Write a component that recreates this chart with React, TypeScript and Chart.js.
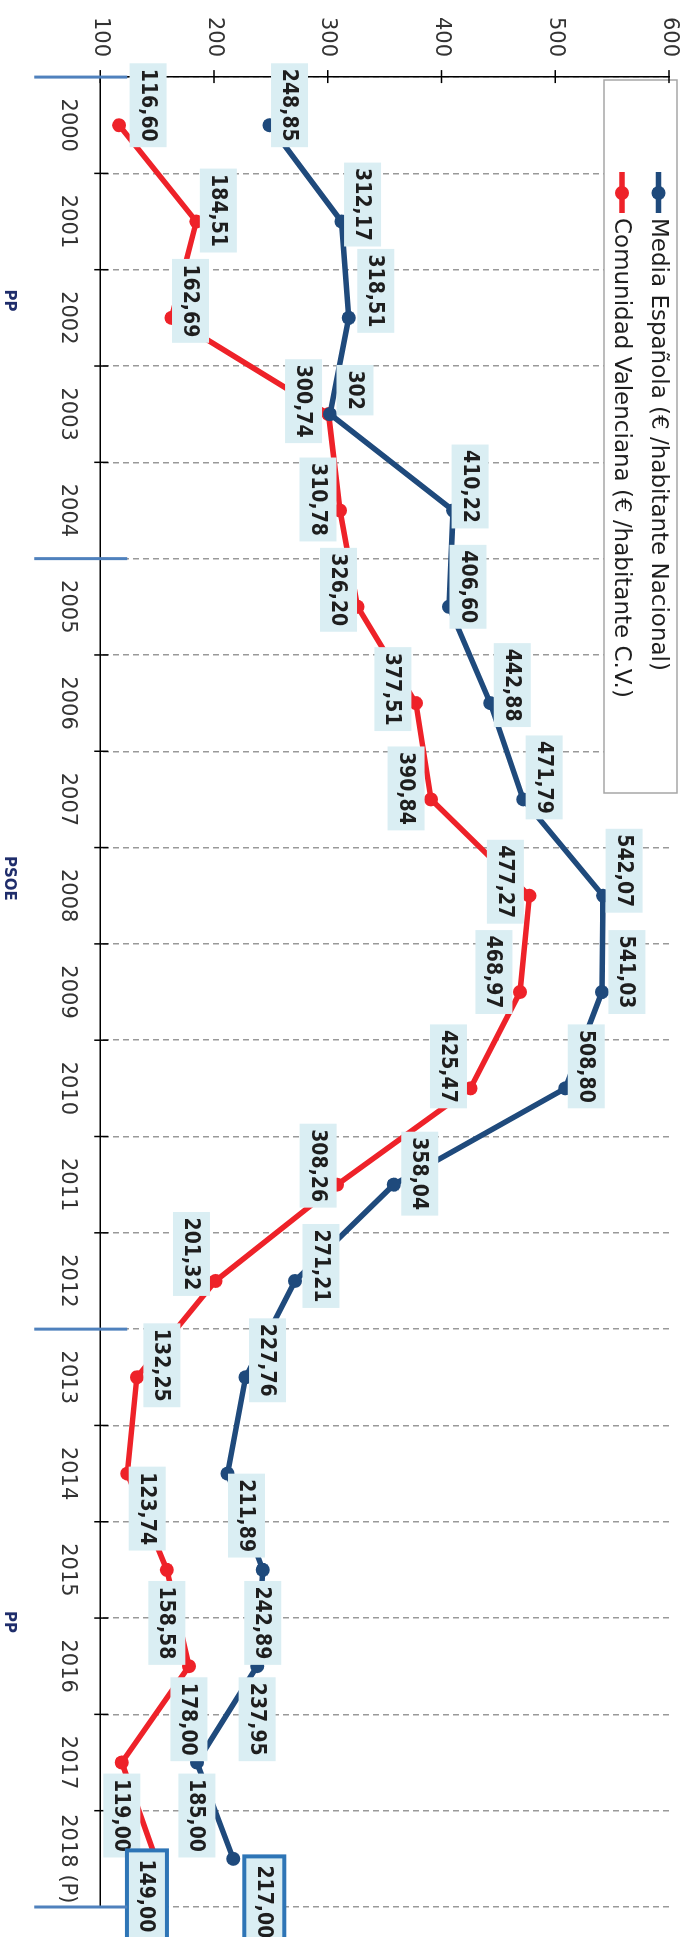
import React, { useEffect, useRef } from 'react';
import { Chart, registerables } from 'chart.js';

Chart.register(...registerables);

// ---------- data ----------
const years = ['2000', '2001', '2002', '2003', '2004', '2005', '2006', '2007', '2008', '2009', '2010', '2011', '2012', '2013', '2014', '2015', '2016', '2017', '2018 (P)'];
const mediaEspanola = [248.85, 312.17, 318.51, 302, 410.22, 406.6, 442.88, 471.79, 542.07, 541.03, 508.8, 358.04, 271.21, 227.76, 211.89, 242.89, 237.95, 185.0, 217.0];
const comunidadValenciana = [116.6, 184.51, 162.69, 300.74, 310.78, 326.2, 377.51, 390.84, 477.27, 468.97, 425.47, 308.26, 201.32, 132.25, 123.74, 158.58, 178.0, 119.0, 149.0];
const seriesNames = ['Media Española (€ /habitante Nacional)', 'Comunidad Valenciana (€ /habitante C.V.)'];
const valueMin = 100;
const valueMax = 600;
const valueStep = 100;
// labels shown without decimals (series index -> point indices)
const integerLabels = [[3], []];
// political periods
const parties = ['PP', 'PSOE', 'PP'];
const partyBounds = [0, 5, 13, 19];
const partyLabelAt = [1.82, 7.82, 15.54];

// ---------- layout / style ----------
const W = 1937;
const H = 687;
const BLUE = '#1F4A7C';
const RED = '#EE2229';
const LABEL_BG = '#DAEEF3';
const HILITE = '#2E75B6';
// data label offsets from their point, in px [dx, dy]
const labelOffsets = [
  [[-20, -20], [-17, -21], [-27, -27], [-24, -25], [-24, -17], [-20, -19], [-18, -22], [-22, -21], [-25, -21], [-20, -25], [-22, -21], [-11, -26], [-15, -26], [-17, -22], [42, -19], [53, 0], [53, 0], [53, 0], [43, -31]],
  [[-20, -29], [-11, -22], [-17, -19], [-13, 25], [-11, 22], [-17, 19], [-14, 23], [-11, 25], [-14, 24], [-20, 26], [-22, 22], [-19, 19], [-27, 24], [-12, -25], [35, -20], [53, 0], [53, 0], [53, 0], [37, 9]],
];

const fmt = (v: number, s: number, i: number) =>
  integerLabels[s].includes(i) ? String(Math.round(v)) : v.toFixed(2).replace('.', ',');

const decor = {
  id: 'decor',
  beforeDatasetsDraw(chart: any) {
    const { ctx, chartArea, scales } = chart;
    const x = scales.x;
    const y = scales.y;
    ctx.save();
    // legend box
    ctx.fillStyle = '#fff';
    ctx.fillRect(80, 10, 713, 73);
    ctx.strokeStyle = '#A6A6A6';
    ctx.lineWidth = 1.5;
    ctx.strokeRect(80, 10, 713, 73);
    const colors = [BLUE, RED];
    const rows = [28.5, 65];
    seriesNames.forEach((name, k) => {
      const ly = rows[k];
      ctx.strokeStyle = colors[k];
      ctx.lineWidth = 5.5;
      ctx.beginPath();
      ctx.moveTo(172, ly);
      ctx.lineTo(213, ly);
      ctx.stroke();
      ctx.fillStyle = colors[k];
      ctx.beginPath();
      ctx.arc(193, ly, 7, 0, Math.PI * 2);
      ctx.fill();
      ctx.fillStyle = '#1e1e1e';
      ctx.font = '500 23px "DejaVu Sans"';
      ctx.textAlign = 'left';
      ctx.textBaseline = 'middle';
      ctx.fillText(name, 218, ly + 1);
    });
    // tick marks crossing axes
    ctx.strokeStyle = '#000';
    ctx.lineWidth = 1.5;
    ctx.beginPath();
    y.ticks.forEach((t: any) => {
      const py = y.getPixelForValue(t.value);
      ctx.moveTo(chartArea.left - 7, py);
      ctx.lineTo(chartArea.left + 6, py);
    });
    for (let b = 1; b <= years.length; b++) {
      const px = x.getPixelForValue(b - 0.5);
      ctx.moveTo(px, chartArea.bottom - 8);
      ctx.lineTo(px, chartArea.bottom + 6);
    }
    ctx.stroke();
    ctx.restore();
  },
  afterDatasetsDraw(chart: any) {
    const { ctx, chartArea, scales } = chart;
    const x = scales.x;
    ctx.save();
    // data labels
    ctx.font = 'bold 21px "DejaVu Sans Condensed", "Liberation Sans"';
    ctx.textAlign = 'center';
    ctx.textBaseline = 'middle';
    chart.data.datasets.forEach((ds: any, s: number) => {
      const meta = chart.getDatasetMeta(s);
      meta.data.forEach((pt: any, i: number) => {
        const txt = fmt(ds.data[i], s, i);
        const [dx, dy] = labelOffsets[s][i];
        const cx = pt.x + dx;
        const cy = pt.y + dy;
        const last = i === ds.data.length - 1;
        const w = ctx.measureText(txt).width + (last ? 18 : 11);
        const h = last ? 40 : 37;
        ctx.fillStyle = LABEL_BG;
        ctx.fillRect(cx - w / 2, cy - h / 2, w, h);
        if (last) {
          ctx.strokeStyle = HILITE;
          ctx.lineWidth = 4;
          ctx.strokeRect(cx - w / 2, cy - h / 2, w, h);
        }
        ctx.fillStyle = '#1e1e1e';
        ctx.fillText(txt, cx, cy + 1);
      });
    });
    // political periods
    ctx.strokeStyle = '#4F81BD';
    ctx.lineWidth = 3;
    ctx.beginPath();
    partyBounds.forEach((b) => {
      const px = x.getPixelForValue(b - 0.5);
      ctx.moveTo(px, chartArea.bottom - 27);
      ctx.lineTo(px, chartArea.bottom + 66);
    });
    ctx.stroke();
    ctx.fillStyle = '#1F2D6B';
    ctx.font = 'bold 15px "DejaVu Sans"';
    parties.forEach((p, k) => {
      ctx.fillText(p, x.getPixelForValue(partyLabelAt[k]), chartArea.bottom + 91);
    });
    ctx.restore();
  },
};

export default function App() {
  const ref = useRef<HTMLCanvasElement | null>(null);
  useEffect(() => {
    document.documentElement.style.overflow = 'hidden';
    document.body.style.overflow = 'hidden';
    const canvas = ref.current;
    if (!canvas) return;
    const tickFont = { family: '"DejaVu Sans"', size: 21 };
    const chart = new Chart(canvas, {
      type: 'line',
      data: {
        labels: years,
        datasets: [
          {
            label: seriesNames[0],
            data: mediaEspanola,
            borderColor: BLUE,
            backgroundColor: BLUE,
            borderWidth: 5.5,
            pointRadius: 7,
            pointBorderWidth: 0,
            pointBackgroundColor: BLUE,
            tension: 0,
          },
          {
            label: seriesNames[1],
            data: comunidadValenciana,
            borderColor: RED,
            backgroundColor: RED,
            borderWidth: 5.5,
            pointRadius: 7,
            pointBorderWidth: 0,
            pointBackgroundColor: RED,
            tension: 0,
          },
        ],
      },
      options: {
        animation: false,
        responsive: false,
        maintainAspectRatio: false,
        layout: { padding: { left: 17, right: 30, top: 18, bottom: 55 } },
        plugins: { legend: { display: false }, tooltip: { enabled: false } },
        scales: {
          x: {
            type: 'category',
            offset: true,
            grid: {
              display: true,
              offset: true,
              drawTicks: true,
              tickLength: 20,
              tickColor: 'rgba(0,0,0,0)',
              color: '#999999',
              lineWidth: 1.5,
            },
            border: { display: true, color: '#000', width: 1.5, dash: [6, 4] as any },
            ticks: {
              color: '#333',
              font: tickFont,
              padding: 0,
              autoSkip: false,
              maxRotation: 0,
              minRotation: 0,
            },
          },
          y: {
            min: valueMin,
            max: valueMax,
            grid: {
              display: true,
              drawOnChartArea: false,
              drawTicks: true,
              tickLength: 20,
              tickColor: 'rgba(0,0,0,0)',
              color: 'rgba(0,0,0,0)',
            },
            border: { display: true, color: '#000', width: 1.5 },
            ticks: { stepSize: valueStep, color: '#333', font: tickFont, padding: 0 },
          },
        },
      },
      plugins: [decor],
    } as any);
    return () => chart.destroy();
  }, []);
  return (
    <div
      style={{
        position: 'absolute',
        left: 0,
        top: 0,
        width: W,
        height: H,
        transformOrigin: '0 0',
        transform: `translate(${H}px, 0) rotate(90deg)`,
        background: '#fff',
      }}
    >
      <canvas ref={ref} width={W} height={H} style={{ display: 'block', width: W, height: H }} />
    </div>
  );
}
